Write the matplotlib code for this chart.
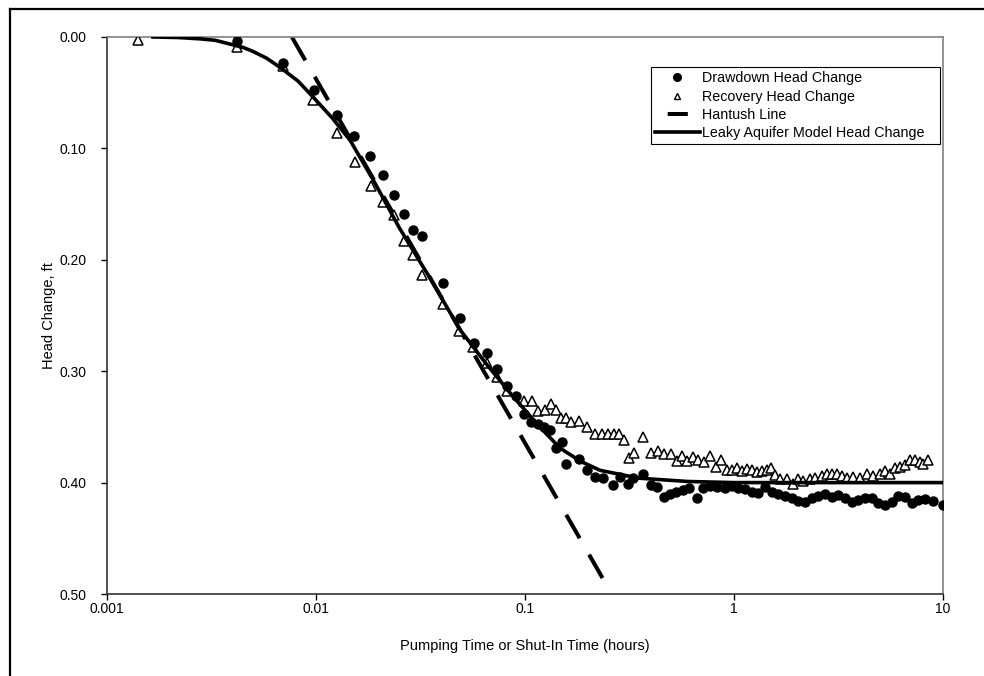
import matplotlib
matplotlib.use("Agg")
import matplotlib.pyplot as plt
from matplotlib.lines import Line2D
from matplotlib.ticker import FixedLocator, FixedFormatter, NullLocator

plt.rcParams['font.family'] = ['Liberation Sans', 'DejaVu Sans']

# Drawdown head change (filled circles): time (hours), head change (ft)
dd_time = [0.00418, 0.00693, 0.00975, 0.01257, 0.01524, 0.0181, 0.0209, 0.0236,
           0.0264, 0.0291, 0.0321, 0.0404, 0.0489, 0.0568, 0.0656, 0.0738, 0.0821,
           0.0906, 0.0989, 0.107, 0.116, 0.124, 0.132, 0.141, 0.150, 0.158, 0.182,
           0.199, 0.216, 0.237, 0.264, 0.285, 0.312,
           0.330, 0.366, 0.399, 0.430, 0.462, 0.494, 0.527, 0.569, 0.611, 0.662,
           0.713, 0.767, 0.832, 0.906, 0.975, 1.049, 1.129, 1.216, 1.307, 1.407,
           1.514, 1.629, 1.754, 1.888, 2.031, 2.187, 2.353, 2.531, 2.725, 2.933,
           3.155, 3.396, 3.656, 3.936, 4.236, 4.560, 4.898, 5.272, 5.675, 6.109,
           6.577, 7.079, 7.621, 8.204, 8.99, 9.97]
dd_head = [0.004, 0.023, 0.048, 0.070, 0.089, 0.107, 0.124, 0.142,
           0.159, 0.173, 0.179, 0.221, 0.2525, 0.275, 0.284, 0.298, 0.313,
           0.322, 0.338, 0.346, 0.347, 0.350, 0.353, 0.369, 0.364, 0.383, 0.379,
           0.389, 0.395, 0.396, 0.402, 0.395, 0.401,
           0.3956, 0.3926, 0.4022, 0.4037, 0.4127, 0.4105, 0.4087, 0.4066, 0.4051, 0.4141,
           0.4046, 0.4031, 0.4037, 0.4046, 0.4028, 0.4051, 0.4060, 0.4087, 0.4090, 0.4037,
           0.4082, 0.4105, 0.4117, 0.4135, 0.4165, 0.4172, 0.4135, 0.4117, 0.4105, 0.4127,
           0.4111, 0.4141, 0.4172, 0.4156, 0.4135, 0.4141, 0.4186, 0.4201, 0.4172, 0.4117,
           0.4127, 0.4186, 0.4156, 0.4147, 0.4165, 0.4205]

# Recovery head change (open triangles): shut-in time (hours), head change (ft)
rc_time = [0.0014, 0.00418, 0.00693, 0.00964, 0.01257, 0.01538, 0.01828, 0.0209,
           0.0236, 0.0264, 0.0292, 0.0321, 0.0404, 0.0486, 0.0566, 0.0656, 0.0738,
           0.0823, 0.0989, 0.1076, 0.1159, 0.1248, 0.1327, 0.1406, 0.1483, 0.157,
           0.1656, 0.182, 0.1986, 0.216, 0.233, 0.251, 0.267, 0.2825, 0.2985,
           0.3155, 0.3327, 0.366, 0.399, 0.4315, 0.4647, 0.5003, 0.532, 0.566,
           0.599, 0.634, 0.675, 0.718, 0.767, 0.820, 0.867, 0.923,
           0.975, 1.030, 1.089, 1.151, 1.216, 1.284, 1.357, 1.433, 1.499, 1.571,
           1.660, 1.787, 1.922, 2.031, 2.146, 2.311, 2.443, 2.628, 2.778, 2.933,
           3.10, 3.276, 3.462, 3.724, 4.009, 4.315, 4.643, 4.997, 5.272, 5.575,
           5.891, 6.226, 6.577, 6.952, 7.346, 7.763, 8.05, 8.51]
rc_head = [0.003, 0.009, 0.026, 0.0566, 0.086, 0.112, 0.134, 0.148,
           0.160, 0.183, 0.1957, 0.2136, 0.2397, 0.264, 0.2786, 0.293, 0.305,
           0.318, 0.3268, 0.3268, 0.336, 0.335, 0.3294, 0.335, 0.3417, 0.3417,
           0.3456, 0.3444, 0.3504, 0.3564, 0.3564, 0.3564, 0.3564, 0.3564, 0.3618,
           0.378, 0.3737, 0.3593, 0.3731, 0.3714, 0.3743, 0.3743, 0.3803, 0.3761,
           0.3803, 0.3773, 0.3797, 0.3818, 0.3761, 0.3857, 0.3797, 0.3887,
           0.3887, 0.3872, 0.3896, 0.3878, 0.3887, 0.3908, 0.3896, 0.3887, 0.3866, 0.3932,
           0.3968, 0.3968, 0.4015, 0.3968, 0.3986, 0.3968, 0.3956, 0.3938, 0.3926, 0.3926,
           0.3926, 0.3938, 0.3956, 0.3947, 0.3956, 0.3926, 0.3938, 0.3926, 0.3896, 0.3926,
           0.3872, 0.3857, 0.3842, 0.3797, 0.3797, 0.3818, 0.3836, 0.3797]

# Hantush straight line (end points)
hantush_time = [0.00767, 0.26]
hantush_head = [0.0, 0.50]

# Leaky aquifer model head change curve
model_time = [0.00166, 0.0022, 0.0028, 0.0033, 0.004, 0.0045, 0.005, 0.0058, 0.0067,
              0.0082, 0.0097, 0.012, 0.0146, 0.019, 0.025, 0.035, 0.049, 0.065,
              0.088, 0.115, 0.147, 0.185, 0.229, 0.35, 0.6, 1.0, 10.0]
model_head = [0.000, 0.0005, 0.0017, 0.003, 0.007, 0.0095, 0.013, 0.019, 0.027,
              0.0395, 0.054, 0.073, 0.093, 0.130, 0.171, 0.216, 0.263, 0.293,
              0.323, 0.348, 0.369, 0.381, 0.389, 0.396, 0.399, 0.400, 0.400]

x_ticks = [0.001, 0.01, 0.1, 1, 10]
x_labels = ['0.001', '0.01', '0.1', '1', '10']
y_ticks = [0.0, 0.1, 0.2, 0.3, 0.4, 0.5]

fig = plt.figure(figsize=(9.84, 6.76), dpi=100)
ax = fig.add_axes([0.1087, 0.1213, 0.8496, 0.824])

ax.plot(dd_time, dd_head, linestyle='none', marker='o', markersize=6.5,
        color='black', label='Drawdown Head Change', zorder=4)
ax.plot(rc_time, rc_head, linestyle='none', marker='^', markersize=6.5,
        markerfacecolor='white', markeredgecolor='black', markeredgewidth=1.1,
        label='Recovery Head Change', zorder=3)
ax.plot(hantush_time, hantush_head, color='black', linewidth=2.9,
        linestyle=(0, (6.7, 4.7)), zorder=2)
ax.plot(model_time, model_head, color='black', linewidth=2.6, zorder=5)

ax.set_xscale('log')
ax.set_xlim(0.001, 10)
ax.set_ylim(0.5, 0.0)
ax.xaxis.set_major_locator(FixedLocator(x_ticks))
ax.xaxis.set_major_formatter(FixedFormatter(x_labels))
ax.xaxis.set_minor_locator(NullLocator())
ax.set_yticks(y_ticks)
ax.set_yticklabels([f'{v:.2f}' for v in y_ticks])
ax.tick_params(axis='both', direction='out', length=4, width=1, labelsize=10)
ax.tick_params(axis='x', pad=2)
ax.tick_params(axis='y', pad=11)

for side in ['top', 'right']:
    ax.spines[side].set_color('#808080')
    ax.spines[side].set_linewidth(1.2)
for side in ['left', 'bottom']:
    ax.spines[side].set_color('#333333')
    ax.spines[side].set_linewidth(1.2)

ax.set_xlabel('Pumping Time or Shut-In Time (hours)', fontsize=10.5, labelpad=16)
ax.set_ylabel('Head Change, ft', fontsize=10.5, labelpad=2)

# legend with Excel-like handles
handles = [
    Line2D([], [], linestyle='none', marker='o', markersize=5.5, color='black'),
    Line2D([], [], linestyle='none', marker='^', markersize=5, markerfacecolor='white',
           markeredgecolor='black', markeredgewidth=1.0),
    Line2D([], [], color='black', linewidth=2.9, linestyle=(8.1, (5.0, 6.25))),
    Line2D([], [], color='black', linewidth=2.6),
]
labels = ['Drawdown Head Change', 'Recovery Head Change', 'Hantush Line',
          'Leaky Aquifer Model Head Change']
leg = ax.legend(handles, labels, loc='upper left',
                bbox_to_anchor=(0.6507, 0.0, 0.3457, 0.9461), mode='expand',
                borderaxespad=0, fontsize=10.3, handlelength=3.1, handletextpad=0.2,
                labelspacing=0.3, borderpad=0.3, fancybox=False, frameon=True,
                framealpha=1, edgecolor='black')
leg.get_frame().set_linewidth(0.8)

# outer frame (only top and left edges are visible)
fig.add_artist(Line2D([10 / 984, 1.0], [1 - 9 / 676, 1 - 9 / 676],
                      transform=fig.transFigure, color='black', linewidth=1.6))
fig.add_artist(Line2D([10 / 984, 10 / 984], [0.0, 1 - 9 / 676],
                      transform=fig.transFigure, color='black', linewidth=1.6))

fig.savefig('out.png', dpi=100)
